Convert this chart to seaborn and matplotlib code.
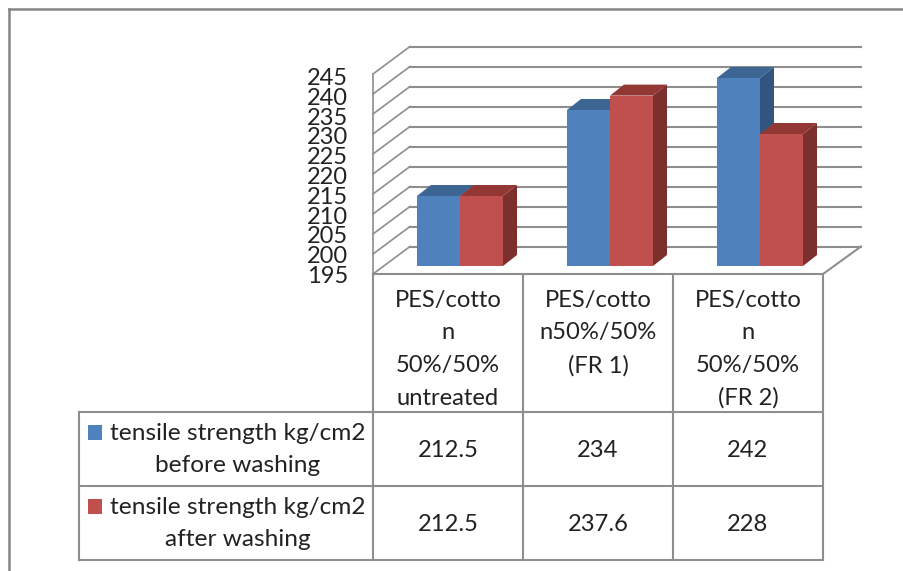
# plot.py
import pandas as pd
import seaborn as sns
import matplotlib.pyplot as plt
from matplotlib.patches import Polygon, Rectangle
from matplotlib.transforms import ScaledTranslation

categories = ['untreated', 'FR 1', 'FR 2']
cat_lines = [
    ['PES/cotto', 'n', '50%/50%', 'untreated'],
    ['PES/cotto', 'n50%/50%', '(FR 1)'],
    ['PES/cotto', 'n', '50%/50%', '(FR 2)'],
]
before = [212.5, 234, 242]
after = [212.5, 237.6, 228]
table_before = ['212.5', '234', '242']
table_after = ['212.5', '237.6', '228']
series = ['tensile strength kg/cm2 before washing', 'tensile strength kg/cm2 after washing']
y_ticks = [195, 200, 205, 210, 215, 220, 225, 230, 235, 240, 245]

BLUE = '#4f81bd'
RED = '#c0504d'
BLUE_TOP, BLUE_SIDE = '#3d6594', '#32557f'
RED_TOP, RED_SIDE = '#933735', '#7b302e'
LINE = '#8e8e8e'
W, H = 904, 571

sns.set_theme(style='white')
plt.rcParams['font.family'] = ['Lato', 'DejaVu Sans']

df = pd.DataFrame({
    'fabric': categories * 2,
    'strength': before + after,
    'series': [series[0]] * 3 + [series[1]] * 3,
})

fig = plt.figure(figsize=(W / 100, H / 100), dpi=100)

# pixel canvas for the frame, walls and table
bg = fig.add_axes([0, 0, 1, 1])
bg.set_xlim(0, W)
bg.set_ylim(H, 0)
bg.axis('off')


def hline(x0, y0, x1, y1, lw=1.5, color=LINE):
    bg.plot([x0, x1], [y0, y1], color=color, lw=lw, solid_capstyle='projecting')


# outer frame
hline(9, 9, W, 9, lw=1.8, color='#858585')
hline(9, 9, 9, H, lw=1.8, color='#858585')

# walls of the 3d box
for i, t in enumerate(y_ticks):
    y_back = 246.5 - (t - 195) * 4
    y_front = 274 - (t - 195) * 4
    hline(410, y_back, 861, y_back)
    hline(373, y_front, 410, y_back, lw=1.2)
hline(373, 73.5, 373, 274, lw=1.2)
hline(823, 274, 861, 246.5)

# table lines
for x in [373, 523, 673, 823]:
    hline(x, 274, x, 560)
hline(79, 412, 79, 560)
hline(373, 274, 823, 274)
for y in [412, 486, 560]:
    hline(79, y, 823, y)

# table text
centers = [448, 598, 748]
for cx, lines in zip(centers, cat_lines):
    for k, line in enumerate(lines):
        bg.text(cx, 306.7 + k * 32.7, line, ha='center', va='baseline', fontsize=17.1, color='#222222')
for cx, a, b in zip(centers, table_before, table_after):
    bg.text(cx, 456.7, a, ha='center', va='baseline', fontsize=17.1, color='#222222')
    bg.text(cx, 530.7, b, ha='center', va='baseline', fontsize=17.1, color='#222222')

bg.add_patch(Rectangle((88.5, 424.5), 14, 15.5, color=BLUE, lw=0))
bg.add_patch(Rectangle((88.5, 499), 14, 15, color=RED, lw=0))
for y0, name in [(440, series[0]), (514.3, series[1])]:
    first = ' '.join(name.split(' ')[:3])
    second = ' '.join(name.split(' ')[3:])
    bg.text(238, y0, first, ha='center', va='baseline', fontsize=17.6, color='#222222')
    bg.text(238, y0 + 32, second, ha='center', va='baseline', fontsize=17.6, color='#222222')

# bars, 150 px per category and 4 px per unit
ax = fig.add_axes([385 / W, (H - 266) / H, 450 / W, 200 / H], facecolor='none')
sns.barplot(data=df, x='fabric', y='strength', hue='series', order=categories,
            palette=[BLUE, RED], width=86 / 150, gap=0, saturation=1, legend=False,
            linewidth=0, ax=ax)
ax.set_xlim(-0.5, 2.5)
ax.set_ylim(195, 245)
ax.set(xlabel='', ylabel='')
ax.set_xticks([])
ax.set_yticks(y_ticks)
ax.tick_params(axis='y', length=0, pad=26.5, labelsize=17, labelcolor='#222222')
sns.despine(ax=ax, left=True, bottom=True)
# labels sit a little below the wall lines and are packed slightly tighter
for t, label in zip(y_ticks, ax.get_yticklabels()):
    offset = ScaledTranslation(0, -(8.5 + (t - 195) * 0.04) / 100, fig.dpi_scale_trans)
    label.set_transform(label.get_transform() + offset)

# fake depth on every bar
dx = 14 / 150
dy = 11 / 4
sides = [(BLUE_TOP, BLUE_SIDE, 1), (RED_TOP, RED_SIDE, 1.5)]
for cont, (c_top, c_side, z) in zip(ax.containers, sides):
    for bar in cont:
        x0 = bar.get_x()
        x1 = x0 + bar.get_width()
        top = bar.get_y() + bar.get_height()
        ax.add_patch(Polygon([(x1, 195), (x1 + dx, 195 + dy), (x1 + dx, top + dy), (x1, top)],
                             color=c_side, lw=0, zorder=z, clip_on=False))
        ax.add_patch(Polygon([(x0, top), (x0 + dx, top + dy), (x1 + dx, top + dy), (x1, top)],
                             color=c_top, lw=0, zorder=z, clip_on=False))
        bar.set_zorder(3)

fig.savefig('out.png', dpi=100)
